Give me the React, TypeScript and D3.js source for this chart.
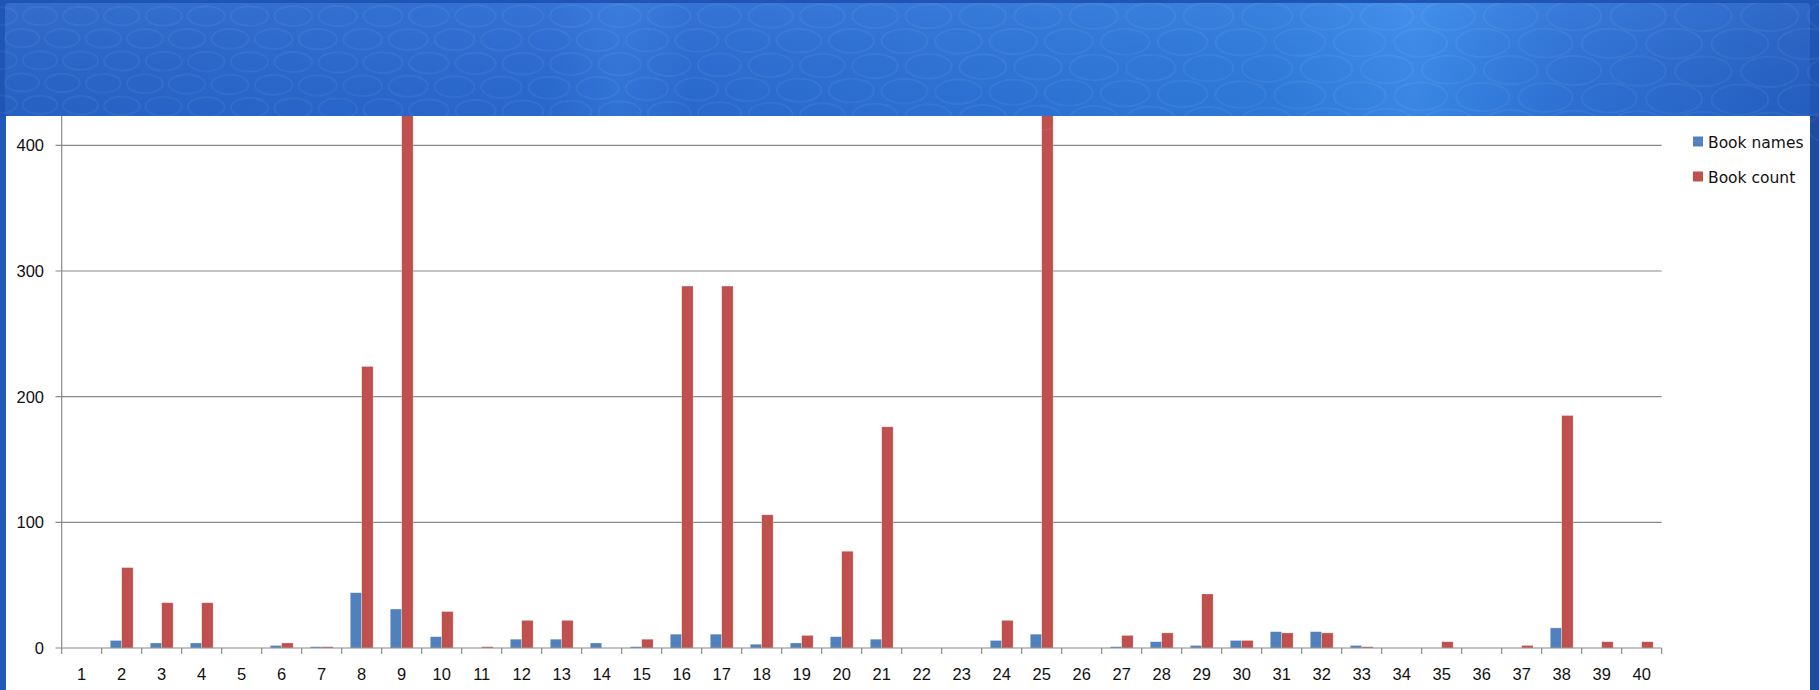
import { useEffect, useRef } from "react";
import * as d3 from "d3";

const categories = [
  "1", "2", "3", "4", "5", "6", "7", "8", "9", "10",
  "11", "12", "13", "14", "15", "16", "17", "18", "19", "20",
  "21", "22", "23", "24", "25", "26", "27", "28", "29", "30",
  "31", "32", "33", "34", "35", "36", "37", "38", "39", "40",
];

const bookNames = [
  0, 6, 4, 4, 0, 2, 1, 44, 31, 9,
  0, 7, 7, 4, 1, 11, 11, 3, 4, 9,
  7, 0, 0, 6, 11, 0, 1, 5, 2, 6,
  13, 13, 2, 0, 0, 0, 0, 16, 0, 0,
];

const bookCount = [
  0, 64, 36, 36, 0, 4, 1, 224, 480, 29,
  1, 22, 22, 0, 7, 288, 288, 106, 10, 77,
  176, 0, 0, 22, 480, 0, 10, 12, 43, 6,
  12, 12, 1, 0, 5, 0, 2, 185, 5, 5,
];

const seriesNames = ["Book names", "Book count"];
const seriesColors = ["#4f81bd", "#c0504d"];
const yTicks = [0, 100, 200, 300, 400];

const W = 1819;
const H = 690;

export default function App() {
  const svgRef = useRef<SVGSVGElement>(null);

  useEffect(() => {
    if (!svgRef.current) return;
    document.body.style.margin = "0";

    const svg = d3.select(svgRef.current);
    svg.selectAll("*").remove();

    const defs = svg.append("defs");
    const headGrad = defs
      .append("linearGradient")
      .attr("id", "headGrad")
      .attr("x1", 0)
      .attr("x2", 1)
      .attr("y1", 0)
      .attr("y2", 0);
    [
      [0, "#2864c8"],
      [0.3, "#2a6bd2"],
      [0.34, "#3176da"],
      [0.38, "#2a6cd2"],
      [0.7, "#2f7bdc"],
      [0.78, "#3a8aea"],
      [0.86, "#2e74d8"],
      [1, "#2560c4"],
    ].forEach(([o, c]) =>
      headGrad.append("stop").attr("offset", o as number).attr("stop-color", c as string)
    );
    const vGrad = defs
      .append("linearGradient")
      .attr("id", "vGrad")
      .attr("x1", 0)
      .attr("x2", 0)
      .attr("y1", 0)
      .attr("y2", 1);
    vGrad.append("stop").attr("offset", 0).attr("stop-color", "#ffffff").attr("stop-opacity", 0.05);
    vGrad.append("stop").attr("offset", 1).attr("stop-color", "#000000").attr("stop-opacity", 0.03);

    // window frame + white chart area
    svg.append("rect").attr("width", W).attr("height", H).attr("fill", "#2259b8");
    svg.append("rect").attr("x", 1810).attr("width", 9).attr("height", H).attr("fill", "#1d4c9e");
    svg
      .append("rect")
      .attr("x", 6)
      .attr("y", 100)
      .attr("width", 1804)
      .attr("height", H - 100)
      .attr("fill", "#ffffff");

    const x0 = d3.scaleBand().domain(categories).range([61.7, 1661.7]).paddingInner(0).paddingOuter(0);
    const bw = x0.bandwidth() / 3.5;
    const y = d3.scaleLinear().domain([0, 400]).range([648, 145.3]);

    const g = svg.append("g");

    // gridlines
    g.selectAll(".grid")
      .data(yTicks.slice(1))
      .join("line")
      .attr("x1", 55.5)
      .attr("x2", 1661.7)
      .attr("y1", (d) => y(d))
      .attr("y2", (d) => y(d))
      .attr("stroke", "#8a8a8a")
      .attr("stroke-width", 1.2);

    const rows = categories.map((c, i) => ({ c, v: [bookNames[i], bookCount[i]] }));

    const grp = g
      .selectAll(".cat")
      .data(rows)
      .join("g")
      .attr("transform", (d) => `translate(${(x0(d.c) || 0) + 0.75 * bw},0)`);

    grp
      .selectAll("rect")
      .data((d) => d.v.map((v, k) => ({ v, k })))
      .join("rect")
      .attr("x", (d) => d.k * bw)
      .attr("y", (d) => y(d.v))
      .attr("width", bw)
      .attr("height", (d) => y(0) - y(d.v))
      .attr("fill", (d) => seriesColors[d.k])
      .attr("stroke", "rgba(255,255,255,0.45)")
      .attr("stroke-width", 0.6);

    // axes
    g.append("line")
      .attr("x1", 61.7)
      .attr("x2", 61.7)
      .attr("y1", 100)
      .attr("y2", 648)
      .attr("stroke", "#8a8a8a")
      .attr("stroke-width", 1.2);
    g.append("line")
      .attr("x1", 55.5)
      .attr("x2", 1661.7)
      .attr("y1", 648)
      .attr("y2", 648)
      .attr("stroke", "#8a8a8a")
      .attr("stroke-width", 1.2);

    g.selectAll(".ylab")
      .data(yTicks)
      .join("text")
      .attr("x", 44)
      .attr("y", (d) => y(d))
      .attr("dy", "0.36em")
      .attr("text-anchor", "end")
      .attr("font-family", "'Liberation Sans', Arial, sans-serif")
      .attr("font-size", 16.5)
      .attr("fill", "#111")
      .text((d) => d);

    const bounds = categories.map((c) => x0(c) || 0).concat([1661.7]);
    g.selectAll(".xt")
      .data(bounds)
      .join("line")
      .attr("x1", (d) => d)
      .attr("x2", (d) => d)
      .attr("y1", 648)
      .attr("y2", 654)
      .attr("stroke", "#8a8a8a")
      .attr("stroke-width", 1.2);

    g.selectAll(".xlab")
      .data(categories)
      .join("text")
      .attr("x", (d) => (x0(d) || 0) + x0.bandwidth() / 2)
      .attr("y", 680)
      .attr("text-anchor", "middle")
      .attr("font-family", "'Liberation Sans', Arial, sans-serif")
      .attr("font-size", 16.5)
      .attr("fill", "#111")
      .text((d) => d);

    // legend
    const lg = g
      .selectAll(".leg")
      .data(seriesNames)
      .join("g")
      .attr("transform", (_, i) => `translate(1693,${136.5 + i * 35})`);
    lg.append("rect").attr("width", 10).attr("height", 10).attr("fill", (_, i) => seriesColors[i]);
    lg.append("text")
      .attr("x", 15)
      .attr("y", 11)
      .attr("font-family", "'DejaVu Sans', Tahoma, sans-serif")
      .attr("font-size", 15.5)
      .attr("fill", "#111")
      .text((d) => d);

    // header band on top (hides the tall bars)
    const head = svg.append("g");
    head.append("rect").attr("width", W).attr("height", 116).attr("fill", "#1f55b4");
    head
      .append("rect")
      .attr("x", 5)
      .attr("y", 3)
      .attr("width", 1805)
      .attr("height", 113)
      .attr("rx", 4)
      .attr("fill", "url(#headGrad)");
    head
      .append("rect")
      .attr("x", 5)
      .attr("y", 3)
      .attr("width", 1805)
      .attr("height", 113)
      .attr("rx", 4)
      .attr("fill", "url(#vGrad)");

    // faint ring pattern of the title bar
    const rings: { cx: number; cy: number; rx: number; ry: number }[] = [];
    for (let r = 0; r < 5; r++) {
      let cx = r % 2 ? 22 : 0;
      while (cx < W + 80) {
        const s = 1 + (cx / W) * 0.7;
        rings.push({ cx, cy: 16 + r * 24 * (0.92 + 0.25 * (cx / W)), rx: 17 * s, ry: 9 * s });
        cx += 40 * s;
      }
    }
    head
      .append("g")
      .attr("clip-path", "inset(3px 9px 0px 5px)")
      .selectAll("ellipse")
      .data(rings)
      .join("ellipse")
      .attr("cx", (d) => d.cx)
      .attr("cy", (d) => d.cy)
      .attr("rx", (d) => d.rx)
      .attr("ry", (d) => d.ry)
      .attr("fill", "none")
      .attr("stroke", "rgba(255,255,255,0.05)")
      .attr("stroke-width", 2);
  }, []);

  return (
    <svg
      ref={svgRef}
      width={W}
      height={H}
      style={{ position: "absolute", left: 0, top: 0, display: "block" }}
    ></svg>
  );
}
